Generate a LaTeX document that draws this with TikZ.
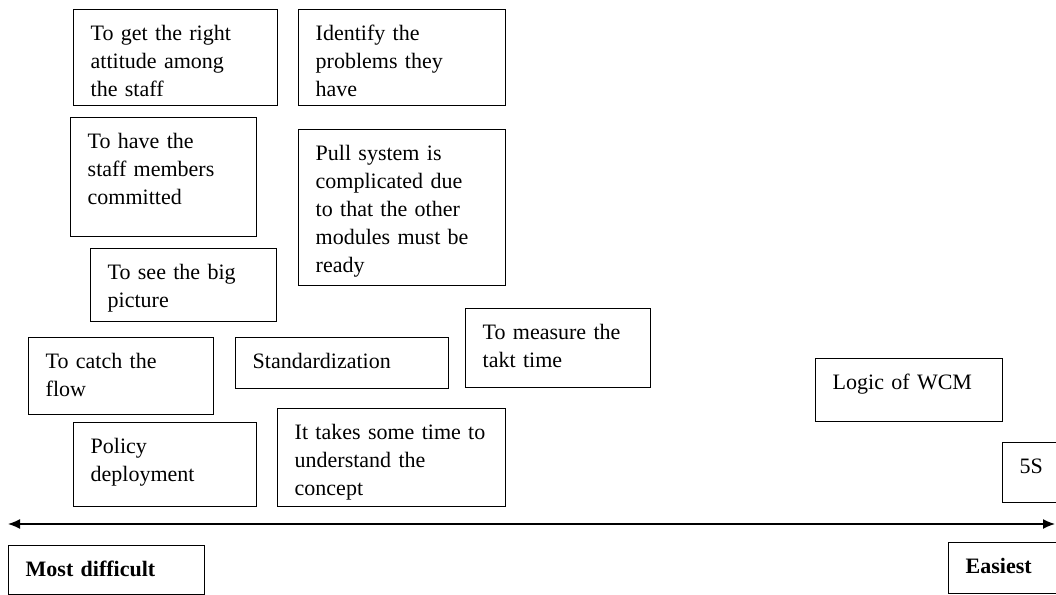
\documentclass[tikz,border=0pt]{standalone}
\usepackage{fontspec}
\setmainfont{Liberation Serif}
\usepackage{tikz}
\usetikzlibrary{arrows.meta}

\tikzset{
  card/.style={draw,line width=0.7pt,anchor=north west,align=left,
    inner xsep=8.5pt,inner ysep=0pt,text height=15.5pt,
    font=\fontsize{11}{14}\selectfont},
  tag/.style={card,font=\fontsize{11}{14}\selectfont\bfseries}
}

\begin{document}
\begin{tikzpicture}[x=0.5pt,y=-0.5pt]
\path[use as bounding box,clip] (0,0) rectangle (1056,595);

\node[card,text width=85pt,text depth=32.5pt] (attitude) at (73,9) {To get the right\\attitude among\\the staff};
\node[card,text width=86.5pt,text depth=32.5pt] (problems) at (298,9) {Identify the\\problems they\\have};
\node[card,text width=76pt,text depth=44pt] (committed) at (70,117) {To have the\\staff members\\committed};
\node[card,text width=86.5pt,text depth=62.5pt] (pull) at (298,129) {Pull system is\\complicated due\\to that the other\\modules must be\\ready};
\node[card,text width=76pt,text depth=21pt] (bigpic) at (90,248) {To see the big\\picture};
\node[card,text width=75.5pt,text depth=23pt] (flow) at (28,337) {To catch the\\flow};
\node[card,text width=89.5pt,text depth=10pt] (std) at (235,337) {Standardization};
\node[card,text width=75.5pt,text depth=24pt] (takt) at (465,308) {To measure the\\takt time};
\node[card,text width=76.5pt,text depth=16pt] (wcm) at (815,358) {Logic of WCM};
\node[card,text width=74.5pt,text depth=26.5pt] (policy) at (73,422) {Policy\\deployment};
\node[card,text width=97pt,text depth=33.5pt] (concept) at (277,408) {It takes some time to\\understand the\\concept};
\node[card,text width=15pt,text depth=14.5pt] (fives) at (1002,442) {5S};

\coordinate (hard) at (8,524);
\coordinate (easy) at (1055,524);
\draw[line width=0.7pt,{Latex[length=6pt,width=5pt]}-{Latex[length=6pt,width=5pt]}] (hard) -- (easy);

\node[tag,text width=81pt,text depth=9pt] (mostdiff) at (8,545) {Most difficult};
\node[tag,text width=43pt,text depth=10pt] (easiest) at (948,542) {Easiest};
\end{tikzpicture}
\end{document}
